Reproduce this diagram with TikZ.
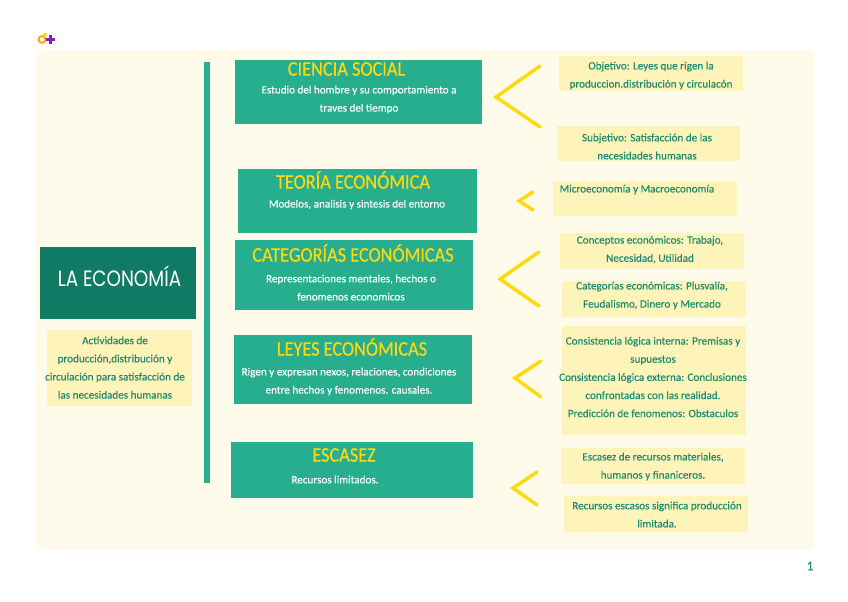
\documentclass[tikz,border=0pt]{standalone}
\usepackage{fontspec}
\setmainfont[FakeBold=0.25]{Carlito}
\newfontfamily\titlefont[FakeStretch=0.88,FakeBold=0.3]{Carlito}
\newfontfamily\headfont[FakeStretch=0.83]{Poppins}
\definecolor{pagebg}{HTML}{FEFBEA}
\definecolor{tealbox}{HTML}{26AE8F}
\definecolor{darkteal}{HTML}{107B65}
\definecolor{paleyellow}{HTML}{FEF3B8}
\definecolor{gold}{HTML}{FFD90F}
\definecolor{tealtext}{HTML}{1B8A70}
\definecolor{logoorange}{HTML}{FFA51F}
\definecolor{logopurple}{HTML}{8A1CB8}
\tikzset{
  x=0.75pt,y=-0.75pt,
  flat/.style={inner sep=0pt,outer sep=0pt},
  greenbox/.style={flat,fill=tealbox},
  yellowbox/.style={flat,fill=paleyellow},
  headbox/.style={flat,fill=darkteal},
  titletext/.style={flat,text=gold,font=\titlefont\fontsize{15.6}{17}\selectfont},
  whitetext/.style={flat,text=white,align=center,yshift=-0.4pt,font=\fontsize{8.35}{13.6}\selectfont},
  notetext/.style={flat,text=tealtext,align=center,yshift=-0.4pt,font=\fontsize{8.35}{13.6}\selectfont},
  chev/.style={draw=gold,line width=2.6pt,line cap=round,line join=miter},
}
\newcommand{\bxn}[6]{\node[#2,minimum width={(#5-#3)*0.75pt},minimum height={(#6-#4)*0.75pt}] (#1) at ({(#3+#5)/2},{(#4+#6)/2}) {};}
\begin{document}
\begin{tikzpicture}
\useasboundingbox (0,0) rectangle (848,601);
\fill[white] (0,0) rectangle (848,601);
\bxn{page}{flat,fill=pagebg}{36}{50}{813}{550}
% logo
\draw[logoorange,line width=1.5pt] (42,39.5) circle[radius=3.4];
\fill[gold] (45,35) circle[radius=2];
\draw[logopurple,line width=1.6pt] (46,39.5) -- (55,39.5) (50.5,35) -- (50.5,44);
% spine
\bxn{spine}{greenbox}{204}{62}{210}{483}
% left column
\bxn{head}{headbox}{40}{247}{196}{319}
\node[flat,text=white,font=\headfont\fontsize{16.6}{18}\selectfont] (headt) at (119.5,276.5) {LA ECONOMÍA};
\bxn{act}{yellowbox}{47}{330}{192}{406}
\node[notetext] (actt) at (115,367) {Actividades de\\producción,distribución y\\circulación para satisfacción de\\las necesidades humanas};
% green boxes
\bxn{b1}{greenbox}{235}{60}{482}{124}
\node[titletext] (b1t) at (346.5,69) {CIENCIA SOCIAL};
\node[whitetext] (b1d) at (359,99) {Estudio del hombre y su comportamiento a\\traves del tiempo};
\bxn{b2}{greenbox}{238}{169}{477}{233}
\node[titletext] (b2t) at (353,180) {TEORÍA ECONÓMICA};
\node[whitetext] (b2d) at (357,204) {Modelos, analisis y sintesis del entorno};
\bxn{b3}{greenbox}{235}{240}{473}{310}
\node[titletext] (b3t) at (353,253) {CATEGORÍAS ECONÓMICAS};
\node[whitetext] (b3d) at (351,287) {Representaciones mentales, hechos o\\fenomenos economicos};
\bxn{b4}{greenbox}{234}{335}{472}{404}
\node[titletext] (b4t) at (352,347) {LEYES ECONÓMICAS};
\node[whitetext] (b4d) at (349,381) {Rigen y expresan nexos, relaciones, condiciones\\entre hechos y fenomenos. causales.};
\bxn{b5}{greenbox}{231}{442}{473}{498}
\node[titletext] (b5t) at (344,455) {ESCASEZ};
\node[whitetext] (b5d) at (335,479) {Recursos limitados.};
% right boxes
\bxn{n1}{yellowbox}{559}{56}{743}{91}
\node[notetext] (n1t) at (651,75) {Objetivo: Leyes que rigen la\\produccion.distribución y circulacón};
\bxn{n2}{yellowbox}{557}{126}{740}{161}
\node[notetext] (n2t) at (647,146) {Subjetivo: Satisfacción de las\\necesidades humanas};
\bxn{n3}{yellowbox}{553}{181}{737}{216}
\node[notetext] (n3t) at (637,189) {Microeconomía y Macroeconomía};
\bxn{n4}{yellowbox}{560}{233}{744}{269}
\node[notetext] (n4t) at (650,249) {Conceptos económicos: Trabajo,\\Necesidad, Utilidad};
\bxn{n5}{yellowbox}{562}{281}{746}{317}
\node[notetext] (n5t) at (652,295) {Categorías económicas: Plusvalía,\\Feudalismo, Dinero y Mercado};
\bxn{n6}{yellowbox}{562}{326}{746}{435}
\node[notetext] (n6t) at (653,376.5) {Consistencia lógica interna: Premisas y\\supuestos\\Consistencia lógica externa: Conclusiones\\confrontadas con las realidad.\\Predicción de fenomenos: Obstaculos};
\bxn{n7}{yellowbox}{561}{448}{745}{484}
\node[notetext] (n7t) at (653,466) {Escasez de recursos materiales,\\humanos y finaniceros.};
\bxn{n8}{yellowbox}{564}{496}{748}{532}
\node[notetext] (n8t) at (657,514) {Recursos escasos significa producción\\limitada.};
% chevrons
\coordinate (c1a) at (540,66); \coordinate (c1m) at (496,97); \coordinate (c1b) at (540,127);
\coordinate (c2a) at (533,192); \coordinate (c2m) at (519,201); \coordinate (c2b) at (533,210);
\coordinate (c3a) at (539,252); \coordinate (c3m) at (500,279); \coordinate (c3b) at (539,306);
\coordinate (c4a) at (541,361); \coordinate (c4m) at (515,378); \coordinate (c4b) at (541,397);
\coordinate (c5a) at (537,472); \coordinate (c5m) at (513,488); \coordinate (c5b) at (537,505);
\draw[chev] (c1a) -- (c1m) -- (c1b);
\draw[chev] (c2a) -- (c2m) -- (c2b);
\draw[chev] (c3a) -- (c3m) -- (c3b);
\draw[chev] (c4a) -- (c4m) -- (c4b);
\draw[chev] (c5a) -- (c5m) -- (c5b);
\node[flat,text=tealtext,font=\fontsize{10}{10}\selectfont] (pnum) at (810,566) {1};
\end{tikzpicture}
\end{document}
